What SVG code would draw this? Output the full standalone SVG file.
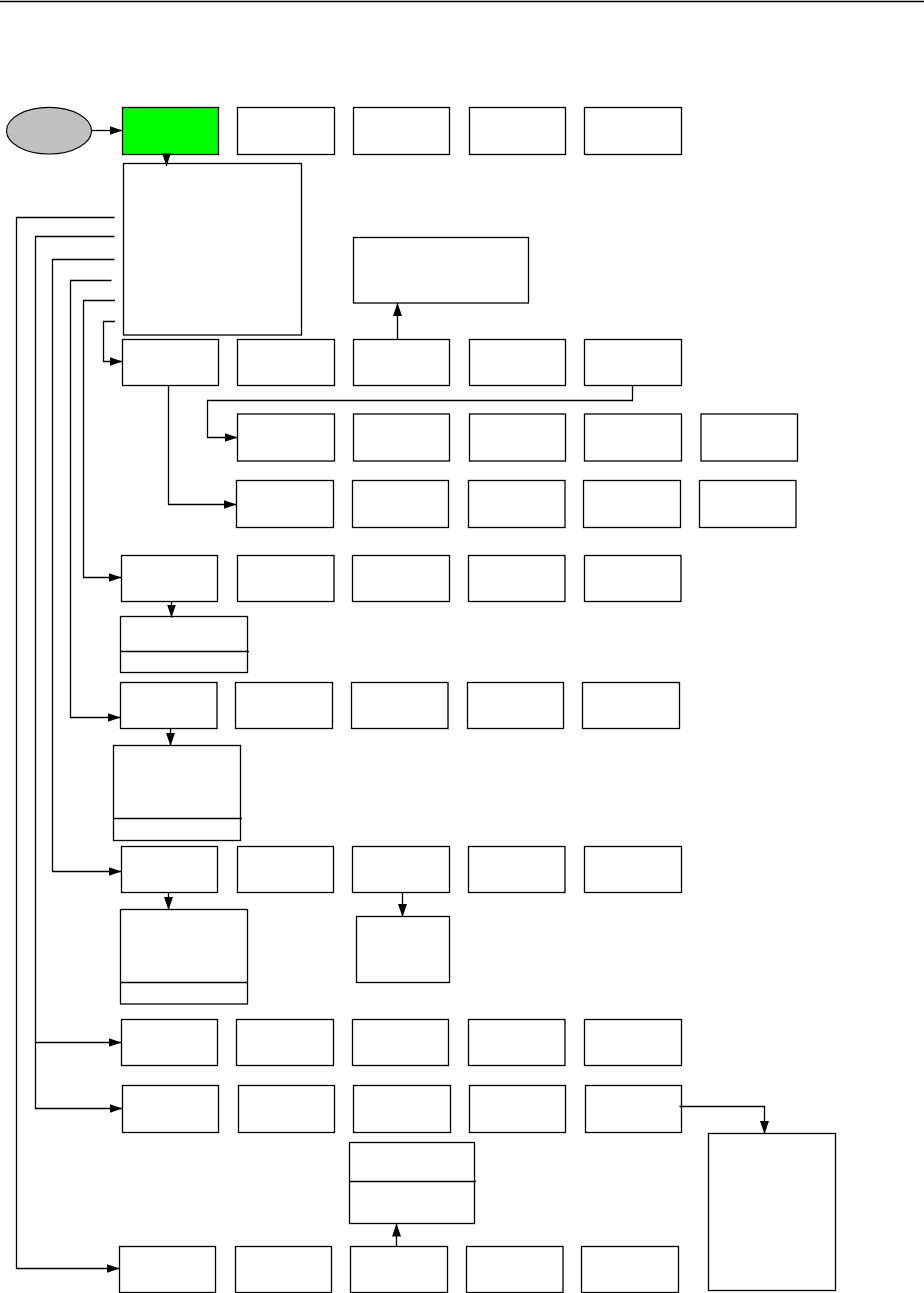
<svg xmlns="http://www.w3.org/2000/svg" width="924" height="1293" viewBox="0 0 924 1293">
<style>
.b{fill:#fff;stroke:#000;stroke-width:1.3}
.c{fill:none;stroke:#000;stroke-width:1.3}
</style>
<defs>
<marker id="ah" markerUnits="userSpaceOnUse" markerWidth="13" markerHeight="9" refX="13" refY="4.5" orient="auto">
<path d="M0,0 L13,4.5 L0,9 z" fill="#000"/>
</marker>
</defs>
<rect width="924" height="1293" fill="#fff"/>
<line x1="0" y1="1.5" x2="924" y2="1.5" stroke="#000" stroke-width="1.4"/>

<g id="start"><ellipse cx="49" cy="130.7" rx="42.5" ry="23.3" fill="#c0c0c0" stroke="#000" stroke-width="1.1"/></g>

<g id="row1">
<rect id="n1_1" x="122.5" y="107.5" width="96" height="47" fill="#00ff00" stroke="#000" stroke-width="1.3"/>
<rect id="n1_2" class="b" x="237.5" y="107.5" width="97" height="47"/>
<rect id="n1_3" class="b" x="353.5" y="107.5" width="96" height="47"/>
<rect id="n1_4" class="b" x="469.5" y="107.5" width="96" height="47"/>
<rect id="n1_5" class="b" x="584.5" y="107.5" width="97" height="47"/>
</g>
<g id="menu"><rect class="b" x="123.5" y="163.5" width="178" height="171.5"/></g>
<g id="info"><rect class="b" x="353.5" y="237.5" width="175" height="65.5"/></g>

<g id="row2">
<rect class="b" x="122.5" y="339.5" width="96" height="46"/>
<rect class="b" x="237.5" y="339.5" width="97" height="46"/>
<rect class="b" x="353.5" y="339.5" width="96" height="46"/>
<rect class="b" x="469.5" y="339.5" width="96" height="46"/>
<rect class="b" x="584.5" y="339.5" width="97" height="46"/>
</g>
<g id="row3">
<rect class="b" x="237.5" y="414" width="97" height="47"/>
<rect class="b" x="353.5" y="414" width="96" height="47"/>
<rect class="b" x="469.5" y="414" width="96" height="47"/>
<rect class="b" x="584.5" y="414" width="97" height="47"/>
<rect class="b" x="701" y="414" width="96.5" height="47"/>
</g>
<g id="row4">
<rect class="b" x="236.5" y="480.5" width="97" height="47"/>
<rect class="b" x="352.5" y="480.5" width="96" height="47"/>
<rect class="b" x="468.5" y="480.5" width="96.5" height="47"/>
<rect class="b" x="583.5" y="480.5" width="97" height="47"/>
<rect class="b" x="699.5" y="480.5" width="96.5" height="47"/>
</g>
<g id="row5">
<rect class="b" x="121.5" y="555.5" width="96" height="46"/>
<rect class="b" x="237.5" y="555.5" width="96.5" height="46"/>
<rect class="b" x="352.5" y="555.5" width="97" height="46"/>
<rect class="b" x="468.5" y="555.5" width="96.5" height="46"/>
<rect class="b" x="584.5" y="555.5" width="96.5" height="46"/>
</g>
<g id="sub5">
<rect class="b" x="120.5" y="616.5" width="127" height="56"/>
<line class="c" x1="120.5" y1="651.5" x2="249" y2="651.5"/>
</g>
<g id="row6">
<rect class="b" x="120.5" y="682.5" width="96.5" height="46"/>
<rect class="b" x="235.5" y="682.5" width="97" height="46"/>
<rect class="b" x="351.5" y="682.5" width="96.5" height="46"/>
<rect class="b" x="467.5" y="682.5" width="96" height="46"/>
<rect class="b" x="582.5" y="682.5" width="97" height="46"/>
</g>
<g id="sub6">
<rect class="b" x="113.5" y="745.5" width="127" height="95"/>
<line class="c" x1="113.5" y1="818.5" x2="242" y2="818.5"/>
</g>
<g id="row7">
<rect class="b" x="121.5" y="846.5" width="96" height="46"/>
<rect class="b" x="237.5" y="846.5" width="96" height="46"/>
<rect class="b" x="352.5" y="846.5" width="97" height="46"/>
<rect class="b" x="468.5" y="846.5" width="96.5" height="46"/>
<rect class="b" x="584.5" y="846.5" width="97" height="46"/>
</g>
<g id="sub7a">
<rect class="b" x="120.5" y="909.5" width="127" height="94.5"/>
<line class="c" x1="120.5" y1="982.5" x2="247.5" y2="982.5"/>
</g>
<g id="sub7c"><rect class="b" x="356.5" y="916.5" width="93" height="66"/></g>
<g id="row8">
<rect class="b" x="121.5" y="1019.5" width="96" height="46"/>
<rect class="b" x="236.5" y="1019.5" width="97" height="46"/>
<rect class="b" x="352.5" y="1019.5" width="96" height="46"/>
<rect class="b" x="468.5" y="1019.5" width="96.5" height="46"/>
<rect class="b" x="584.5" y="1019.5" width="97" height="46"/>
</g>
<g id="row9">
<rect class="b" x="122.5" y="1085.5" width="96" height="47"/>
<rect class="b" x="238.5" y="1085.5" width="96" height="47"/>
<rect class="b" x="353.5" y="1085.5" width="97" height="47"/>
<rect class="b" x="469.5" y="1085.5" width="96" height="47"/>
<rect class="b" x="585.5" y="1085.5" width="96" height="47"/>
</g>
<g id="sub9">
<rect class="b" x="349.5" y="1142.5" width="125" height="81"/>
<line class="c" x1="349.5" y1="1181.5" x2="476" y2="1181.5"/>
</g>
<g id="tall"><rect class="b" x="708.5" y="1133.5" width="127" height="157"/></g>
<g id="row10">
<rect class="b" x="119.5" y="1246.5" width="96" height="46"/>
<rect class="b" x="235.5" y="1246.5" width="96" height="46"/>
<rect class="b" x="350.5" y="1246.5" width="97" height="46"/>
<rect class="b" x="466.5" y="1246.5" width="96.5" height="46"/>
<rect class="b" x="581.5" y="1246.5" width="97" height="46"/>
</g>

<g id="connectors">
<path class="c" d="M91.5,130.5 H122.5" marker-end="url(#ah)"/>
<path class="c" d="M166.5,154.5 V166" marker-end="url(#ah)"/>
<path class="c" d="M114.5,217.5 H16.5 V1268.5 H119.5" marker-end="url(#ah)"/>
<path class="c" d="M114.5,236.5 H35.5 V1108.5 H122.5" marker-end="url(#ah)"/>
<path class="c" d="M35.5,1042.5 H121.5" marker-end="url(#ah)"/>
<path class="c" d="M114.5,259.5 H52.5 V871.5 H121.5" marker-end="url(#ah)"/>
<path class="c" d="M111.5,280.5 H70.5 V717.5 H120.5" marker-end="url(#ah)"/>
<path class="c" d="M115,300.5 H83.5 V577.5 H121.5" marker-end="url(#ah)"/>
<path class="c" d="M115,321.5 H103.5 V361.5 H122.5" marker-end="url(#ah)"/>
<path class="c" d="M397.5,339.5 V303" marker-end="url(#ah)"/>
<path class="c" d="M632.5,385.5 V400.5 H207.5 V437.5 H237.5" marker-end="url(#ah)"/>
<path class="c" d="M168.5,385.5 V504.5 H236.5" marker-end="url(#ah)"/>
<path class="c" d="M171.5,601.5 V617.5" marker-end="url(#ah)"/>
<path class="c" d="M170.5,728.5 V746" marker-end="url(#ah)"/>
<path class="c" d="M168.5,892.5 V910" marker-end="url(#ah)"/>
<path class="c" d="M402.5,892.5 V917" marker-end="url(#ah)"/>
<path class="c" d="M396.5,1246.5 V1223.5" marker-end="url(#ah)"/>
<path class="c" d="M679.5,1106.5 H764.5 V1134" marker-end="url(#ah)"/>
</g>
</svg>
